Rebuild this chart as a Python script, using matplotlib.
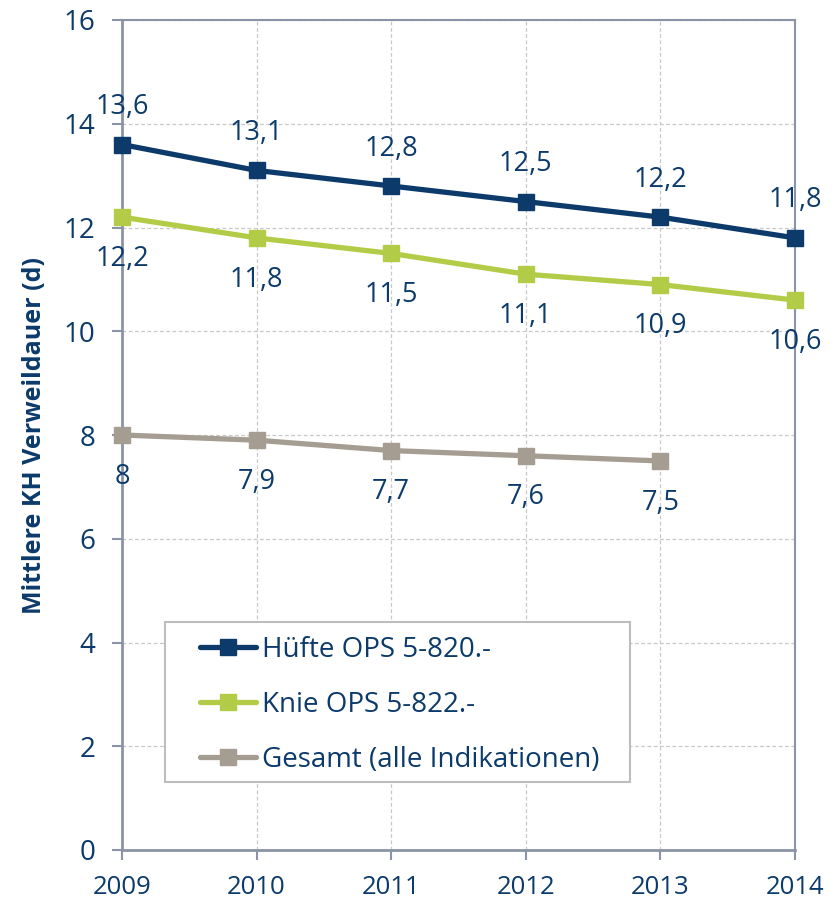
import matplotlib
matplotlib.use("Agg")
import matplotlib.pyplot as plt
from matplotlib import font_manager
from matplotlib.patches import Rectangle

years = [2009, 2010, 2011, 2012, 2013, 2014]
huefte = [13.6, 13.1, 12.8, 12.5, 12.2, 11.8]
knie = [12.2, 11.8, 11.5, 11.1, 10.9, 10.6]
gesamt_years = [2009, 2010, 2011, 2012, 2013]
gesamt = [8.0, 7.9, 7.7, 7.6, 7.5]

series_names = ["Hüfte OPS 5-820.-", "Knie OPS 5-822.-", "Gesamt (alle Indikationen)"]
y_label = "Mittlere KH Verweildauer (d)"

NAVY = "#0b3a6b"
GREEN = "#b3cc48"
TAUPE = "#a59d91"
AXIS = "#8b93a6"
GRID = "#c8c8c8"

installed = {f.name for f in font_manager.fontManager.ttflist}
base_font = "Open Sans" if "Open Sans" in installed else "DejaVu Sans"
plt.rcParams["font.family"] = [base_font, "DejaVu Sans"]

W, H = 840, 901
fig = plt.figure(figsize=(W / 100, H / 100), dpi=100)
ax_l, ax_r, ax_t, ax_b = 122, 795, 20, 850
ax = fig.add_axes([ax_l / W, 1 - ax_b / H, (ax_r - ax_l) / W, (ax_b - ax_t) / H])


def px_to_axes(x, y):
    return (x - ax_l) / (ax_r - ax_l), (ax_b - y) / (ax_b - ax_t)


def fmt(v):
    s = f"{v:.1f}".replace(".", ",")
    return s[:-2] if s.endswith(",0") else s


lines = [
    (years, huefte, NAVY, series_names[0], 27),
    (years, knie, GREEN, series_names[1], -30),
    (gesamt_years, gesamt, TAUPE, series_names[2], -30),
]
for xs, ys, col, name, off in lines:
    ax.plot(xs, ys, color=col, lw=3.8, marker="s", ms=11.5, mfc=col, mec=col,
            label=name, clip_on=False, zorder=3, solid_capstyle="round")
    for x, y in zip(xs, ys):
        ax.annotate(fmt(y), (x, y), xytext=(0, off), textcoords="offset points",
                    ha="center", va="center", fontsize=19.5, color=NAVY)

ax.set_xlim(2009, 2014)
ax.set_ylim(0, 16)
ax.set_xticks(years)
ax.set_yticks(range(0, 17, 2))
ax.set_xticklabels([str(y) for y in years], fontsize=18.5, color=NAVY)
ax.set_yticklabels([str(v) for v in range(0, 17, 2)], fontsize=20, color=NAVY)
ax.tick_params(axis="y", direction="out", length=7, width=1.5, color=AXIS, pad=12)
ax.tick_params(axis="x", direction="out", length=7, width=1.5, color=AXIS, pad=11)

ax.grid(True, color=GRID, lw=0.9, ls=(0, (3, 2)))
ax.set_axisbelow(True)
for side in ["left", "bottom"]:
    ax.spines[side].set_color(AXIS)
    ax.spines[side].set_linewidth(2)
for side in ["top", "right"]:
    ax.spines[side].set_color(AXIS)
    ax.spines[side].set_linewidth(1.5)

ax.set_ylabel(y_label, fontsize=18, fontweight="bold", color=NAVY, labelpad=12)

# legend box with wider side padding than the legend frame allows
bx0, by0 = px_to_axes(165, 782)
bx1, by1 = px_to_axes(630, 622)
ax.add_patch(Rectangle((bx0, by0), bx1 - bx0, by1 - by0, transform=ax.transAxes,
                       facecolor="white", edgecolor="#bdbdbd", lw=1.5, zorder=4))

leg = ax.legend(loc="upper left", bbox_to_anchor=px_to_axes(200, 636),
                fontsize=20, frameon=False, handlelength=2.0,
                handletextpad=0.25, labelspacing=0.97, borderpad=0, borderaxespad=0)
leg.set_zorder(5)
for t in leg.get_texts():
    t.set_color(NAVY)

fig.savefig("out.png", dpi=100)
